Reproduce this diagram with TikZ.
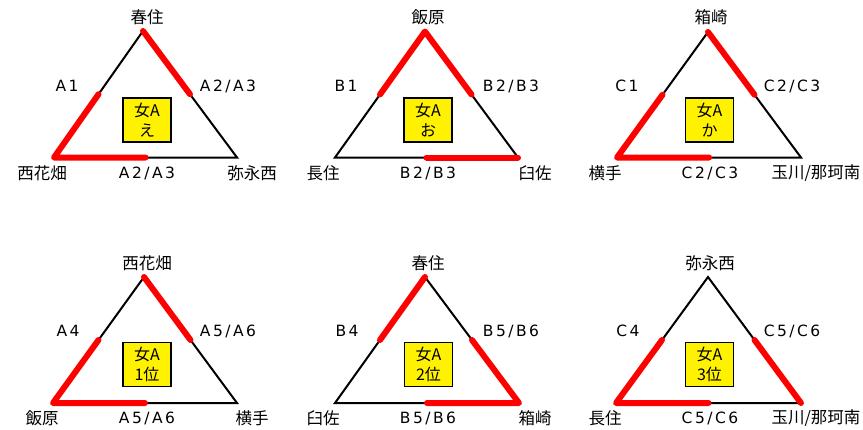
\documentclass[tikz,border=0pt]{standalone}
\usepackage{fontspec}
\setmainfont{Noto Sans CJK JP}
\newfontfamily\lat{DejaVu Sans}[LetterSpace=16]
\usetikzlibrary{calc}
\tikzset{
  blk/.style={line width=2pt, black},
  hot/.style={line width=6pt, red, line cap=round, line join=round},
  jlbl/.style={font=\fontsize{16.5}{19}\selectfont, inner sep=0pt},
  llbl/.style={font=\lat\fontsize{15.5}{18}\selectfont, inner sep=0pt},
  ybox/.style={draw, line width=1.2pt, fill=yellow, minimum width=48pt, minimum height=44pt,
    align=center, font=\fontsize{16}{20}\selectfont, inner sep=0pt}
}
\begin{document}
\begin{tikzpicture}[x=1pt,y=-1pt]
\useasboundingbox (0,0) rectangle (863,429);
% ---------- triangle 1
\coordinate (t1a) at (143,31); \coordinate (t1l) at (54,157.5); \coordinate (t1r) at (237,157.5);
\draw[blk] (t1a) -- (t1r) -- (t1l) -- cycle;
\draw[hot] (t1a) -- ($(t1a)!0.5!(t1r)$);
\draw[hot] ($(t1a)!0.5!(t1l)$) -- (t1l) -- ($(t1l)!0.5!(t1r)$);
\node[jlbl] (t1na) at (147,17) {春住};
\node[llbl] (t1sl) at (67,86) {A1};
\node[llbl] (t1sr) at (228,86) {A2/A3};
\node[jlbl] (t1nl) at (42,173) {西花畑};
\node[llbl] (t1sb) at (147,173) {A2/A3};
\node[jlbl] (t1nr) at (252,173) {弥永西};
\node[ybox] (t1b) at (147,120) {女A\\え};
% ---------- triangle 2
\coordinate (t2a) at (425,31.5); \coordinate (t2l) at (335,157.5); \coordinate (t2r) at (518,157.5);
\draw[blk] (t2a) -- (t2r) -- (t2l) -- cycle;
\draw[hot] ($(t2a)!0.5!(t2l)$) -- (t2a) -- ($(t2a)!0.5!(t2r)$);
\draw[hot] ($(t2l)!0.5!(t2r)$) -- (t2r);
\node[jlbl] (t2na) at (428,17) {飯原};
\node[llbl] (t2sl) at (346,86) {B1};
\node[llbl] (t2sr) at (511,86) {B2/B3};
\node[jlbl] (t2nl) at (323,173) {長住};
\node[llbl] (t2sb) at (428,173) {B2/B3};
\node[jlbl] (t2nr) at (535,173) {臼佐};
\node[ybox] (t2b) at (428,120) {女A\\お};
% ---------- triangle 3
\coordinate (t3a) at (708,32); \coordinate (t3l) at (617,157.5); \coordinate (t3r) at (801,157.5);
\draw[blk] (t3a) -- (t3r) -- (t3l) -- cycle;
\draw[hot] (t3a) -- ($(t3a)!0.5!(t3r)$);
\draw[hot] ($(t3a)!0.5!(t3l)$) -- (t3l) -- ($(t3l)!0.5!(t3r)$);
\node[jlbl] (t3na) at (711,17) {箱崎};
\node[llbl] (t3sl) at (627,86) {C1};
\node[llbl] (t3sr) at (792,86) {C2/C3};
\node[jlbl] (t3nl) at (605,173) {横手};
\node[llbl] (t3sb) at (710,173) {C2/C3};
\node[jlbl] (t3nr) at (816,173) {玉川/那珂南};
\node[ybox] (t3b) at (709.5,120) {女A\\か};
% ---------- triangle 4
\coordinate (t4a) at (144,277); \coordinate (t4l) at (53,403); \coordinate (t4r) at (237,403);
\draw[blk] (t4a) -- (t4r) -- (t4l) -- cycle;
\draw[hot] (t4a) -- ($(t4a)!0.5!(t4r)$);
\draw[hot] ($(t4a)!0.5!(t4l)$) -- (t4l) -- ($(t4l)!0.5!(t4r)$);
\node[jlbl] (t4na) at (147,263) {西花畑};
\node[llbl] (t4sl) at (68,331) {A4};
\node[llbl] (t4sr) at (228,331) {A5/A6};
\node[jlbl] (t4nl) at (42,418) {飯原};
\node[llbl] (t4sb) at (147,418) {A5/A6};
\node[jlbl] (t4nr) at (252,418) {横手};
\node[ybox] (t4b) at (147,364.5) {女A\\1位};
% ---------- triangle 5
\coordinate (t5a) at (425,277); \coordinate (t5l) at (335,403); \coordinate (t5r) at (519,403);
\draw[blk] (t5a) -- (t5r) -- (t5l) -- cycle;
\draw[hot] ($(t5a)!0.5!(t5l)$) -- (t5a);
\draw[hot] ($(t5a)!0.5!(t5r)$) -- (t5r) -- ($(t5l)!0.5!(t5r)$);
\node[jlbl] (t5na) at (428,263) {春住};
\node[llbl] (t5sl) at (347,331) {B4};
\node[llbl] (t5sr) at (511,331) {B5/B6};
\node[jlbl] (t5nl) at (323,418) {臼佐};
\node[llbl] (t5sb) at (428,418) {B5/B6};
\node[jlbl] (t5nr) at (535,418) {箱崎};
\node[ybox] (t5b) at (428.5,364.5) {女A\\2位};
% ---------- triangle 6
\coordinate (t6a) at (708,277); \coordinate (t6l) at (616,403); \coordinate (t6r) at (801,403);
\draw[blk] (t6a) -- (t6r) -- (t6l) -- cycle;
\draw[hot] ($(t6a)!0.5!(t6l)$) -- (t6l) -- ($(t6l)!0.5!(t6r)$);
\draw[hot] ($(t6a)!0.5!(t6r)$) -- (t6r);
\node[jlbl] (t6na) at (710,263) {弥永西};
\node[llbl] (t6sl) at (628,331) {C4};
\node[llbl] (t6sr) at (792,331) {C5/C6};
\node[jlbl] (t6nl) at (605,418) {長住};
\node[llbl] (t6sb) at (710,418) {C5/C6};
\node[jlbl] (t6nr) at (816,418) {玉川/那珂南};
\node[ybox] (t6b) at (709.5,364.5) {女A\\3位};
\end{tikzpicture}
\end{document}
